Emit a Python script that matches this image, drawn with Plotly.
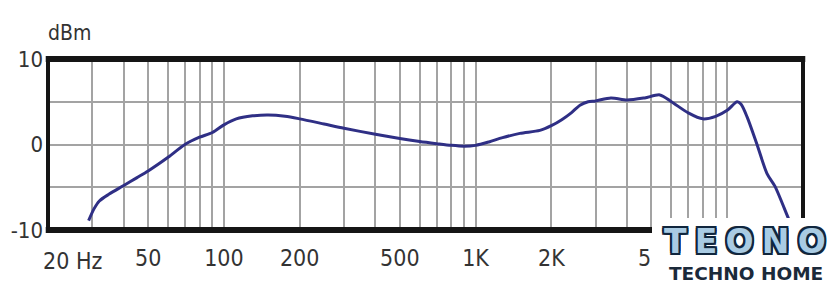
import plotly.graph_objects as go

# Frequency response data
freq_hz = [29, 30.5, 32, 35, 40, 45, 50, 60, 70, 80, 90, 100, 112, 130, 150, 175,
           200, 250, 300, 400, 500, 600, 700, 800, 900, 1000, 1130, 1280, 1500, 1800,
           2000, 2200, 2400, 2600, 2800, 3000, 3450, 4000, 4700, 5400, 6000, 7000,
           8000, 9000, 10000, 10950, 11350, 12000, 13130, 14390, 15480, 17590, 18500]
level_db = [-8.9, -7.5, -6.6, -5.8, -4.8, -3.9, -3.1, -1.5, 0.0, 0.85, 1.4, 2.3, 3.0,
            3.35, 3.45, 3.3, 3.0, 2.4, 1.9, 1.2, 0.7, 0.35, 0.1, -0.1, -0.2, -0.1,
            0.3, 0.8, 1.3, 1.65, 2.2, 2.9, 3.7, 4.6, 5.0, 5.1, 5.45, 5.2, 5.45, 5.8,
            5.0, 3.7, 3.0, 3.3, 4.0, 5.0, 4.7, 3.2, 0.0, -3.4, -4.9, -8.8, -10.2]

# Axis grid / tick labels
x_grid = [20, 30, 40, 50, 60, 70, 80, 90, 100, 200, 300, 400, 500, 600, 700, 800,
          900, 1000, 2000, 3000, 4000, 5000, 6000, 7000, 8000, 9000, 10000]
x_labels = {50: "50", 100: "100", 200: "200", 500: "500", 1000: "1K",
            2000: "2K", 5000: "5K"}
first_label = "20 Hz"
y_ticks = [-10, -5, 0, 5, 10]
y_labels = {-10: "-10", 0: "0", 10: "10"}
y_title = "dBm"

FONT = "Liberation Sans Narrow, DejaVu Sans Condensed, Arial Narrow, sans-serif"
TXT = "#333333"

fig = go.Figure()
fig.add_trace(go.Scatter(
    x=freq_hz, y=level_db, mode="lines",
    line=dict(color="#2f2f85", width=3, shape="spline", smoothing=0.8),
    hoverinfo="skip", showlegend=False,
))

fig.update_layout(
    width=840, height=293,
    margin=dict(l=48, r=37, t=59, b=63),
    paper_bgcolor="white", plot_bgcolor="white",
    font=dict(family=FONT, color=TXT, size=22),
    xaxis=dict(
        type="log", range=[1.30103, 4.30103],
        tickmode="array", tickvals=x_grid,
        ticktext=[x_labels.get(v, "") for v in x_grid],
        showgrid=True, gridcolor="#a3a3a3", gridwidth=1.5,
        zeroline=False, showline=False, ticks="",
        ticklabelstandoff=12,
        tickfont=dict(family=FONT, size=23, color=TXT),
    ),
    yaxis=dict(
        range=[-10, 10],
        tickmode="array", tickvals=y_ticks,
        ticktext=[y_labels.get(v, "") for v in y_ticks],
        showgrid=True, gridcolor="#a3a3a3", gridwidth=1.5,
        zeroline=False, showline=False, ticks="",
        ticklabelstandoff=4,
        tickfont=dict(family=FONT, size=22, color=TXT),
    ),
)

# Thick frame
frame = "#151515"
fig.add_shape(type="line", xref="paper", yref="paper", x0=-0.003, x1=1.003, y0=1, y1=1,
              line=dict(color=frame, width=6), layer="above")
fig.add_shape(type="line", xref="paper", yref="paper", x0=-0.003, x1=1.003, y0=0, y1=0,
              line=dict(color=frame, width=6), layer="above")
fig.add_shape(type="line", xref="paper", yref="paper", x0=0, x1=0, y0=0, y1=1,
              line=dict(color=frame, width=4), layer="above")
fig.add_shape(type="line", xref="paper", yref="paper", x0=1, x1=1, y0=0, y1=1,
              line=dict(color=frame, width=4), layer="above")

# "20 Hz" label and dBm title
fig.add_annotation(text=first_label, x=1.30103, y=0, xref="x", yref="paper",
                   xanchor="left", yanchor="top", xshift=-7, yshift=-16,
                   showarrow=False, font=dict(family=FONT, size=23, color=TXT))
fig.add_annotation(text=y_title, x=0, y=1, xref="paper", yref="paper",
                   xanchor="left", yanchor="bottom", yshift=12, xshift=-2,
                   showarrow=False, font=dict(family=FONT, size=21, color=TXT))

# Watermark logo box
fig.add_shape(type="rect", xref="paper", yref="paper",
              x0=(652 - 48) / 755, x1=1.06, y0=(293 - 63 - 218) / 171, y1=-0.4,
              line=dict(width=0), fillcolor="white", layer="above")
navy = "#10263d"
outline = ", ".join(f"{dx}px {dy}px 0 {navy}" for dx, dy in
                    [(-2, -2), (2, -2), (-2, 2), (2, 2), (0, 2), (0, -2), (2, 0), (-2, 0)])
fig.add_annotation(text="<b>T\u2005E\u2005O\u2005N\u2005O</b>", x=(745 - 48) / 755,
                   y=(230 - 241) / 171,
                   xref="paper", yref="paper", xanchor="center", yanchor="middle",
                   showarrow=False,
                   font=dict(family="DejaVu Sans", size=33, color="#a9cbe3", shadow=outline))
fig.add_annotation(text="<b>TECHNO HOME</b>", x=(746 - 48) / 755, y=(230 - 273) / 171,
                   xref="paper", yref="paper", xanchor="center", yanchor="middle",
                   showarrow=False,
                   font=dict(family="DejaVu Sans", size=18.5, color="#1b2a3a"))

fig.write_html("out.html")
